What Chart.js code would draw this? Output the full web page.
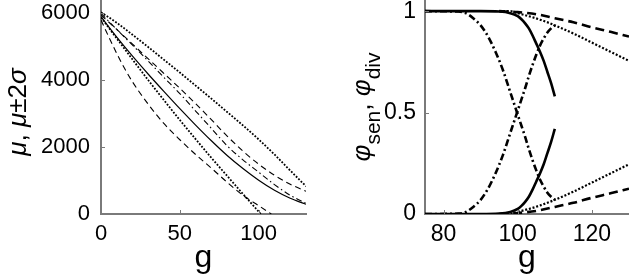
<!DOCTYPE html>
<html><head><meta charset="utf-8">
<script src="https://cdn.jsdelivr.net/npm/chart.js@4.4.1/dist/chart.umd.min.js"></script>
<style>
html,body{margin:0;padding:0;background:#fff;width:629px;height:277px;overflow:hidden}
canvas{position:absolute;top:0}
#c1{left:0}
#c2{left:320px}
</style></head><body>
<canvas id="c1" width="320" height="277"></canvas>
<canvas id="c2" width="309" height="277"></canvas>
<script>
// ---------------- Left panel data (g vs mu, mu +/- 2 sigma) ----------------
const gLeft            = [0, 10, 20, 30, 40, 50, 60, 70, 80, 90, 100, 110, 120, 130];
const upperDotted      = [6030, 5720, 5360, 4990, 4610, 4230, 3840, 3450, 3050, 2650, 2230, 1780, 1300, 830];
const upperDashed      = [5950, 5520, 5080, 4640, 4200, 3760, 3300, 2820, 2330, 1880, 1490, 1160, 890, 680];
const muDashDot        = [6000, 5520, 5050, 4570, 4080, 3600, 3080, 2560, 2040, 1620, 1250, 880, 560, 320];
const muSolid          = [5900, 5290, 4720, 4180, 3660, 3150, 2660, 2190, 1750, 1360, 1010, 710, 470, 290];
const gLowerDotted     = [0, 10, 20, 30, 40, 50, 60, 70, 80, 90, 100, 101.3];
const lowerDotted      = [5880, 5250, 4620, 4000, 3400, 2810, 2240, 1680, 1140, 600, 70, 0];
const gLowerDashed     = [0, 5, 10, 15, 20, 30, 40, 50, 60, 70, 80, 90, 100, 108];
const lowerDashed      = [5800, 5290, 4800, 4350, 3950, 3280, 2700, 2220, 1780, 1370, 950, 560, 250, 0];
const leftXTicks       = [0, 50, 100];
const leftXTickLabels  = ['0', '50', '100'];
const leftYTicks       = [0, 2000, 4000, 6000];
const leftYTickLabels  = ['0', '2000', '4000', '6000'];

// ---------------- Right panel data (g vs phi_sen, phi_div) ----------------
const gSolid        = [75, 90, 95, 98, 100, 101, 102, 103, 104, 105, 106, 107, 108, 109, 110];
const solidDown     = [1, 1, 0.998, 0.99, 0.975, 0.96, 0.94, 0.915, 0.88, 0.84, 0.80, 0.755, 0.70, 0.645, 0.58];
const solidUp       = [0, 0, 0.002, 0.01, 0.025, 0.04, 0.06, 0.085, 0.12, 0.16, 0.20, 0.245, 0.30, 0.355, 0.42];
const gDashDot      = [75, 84, 86, 88, 90, 92, 94, 96, 98, 100, 101, 102, 103, 104, 105, 106, 107, 108, 109, 110];
const dashDotDown   = [1, 0.998, 0.99, 0.965, 0.93, 0.875, 0.80, 0.71, 0.60, 0.49, 0.435, 0.38, 0.32, 0.265, 0.215, 0.17, 0.135, 0.105, 0.085, 0.07];
const dashDotUp     = [0, 0.002, 0.01, 0.035, 0.07, 0.125, 0.20, 0.29, 0.40, 0.51, 0.565, 0.62, 0.68, 0.735, 0.785, 0.83, 0.865, 0.895, 0.915, 0.93];
const gDotted       = [95, 98, 100, 102, 104, 106, 108, 110, 115, 120, 125, 130];
const dottedDown    = [1, 1, 0.99, 0.98, 0.97, 0.958, 0.945, 0.93, 0.89, 0.845, 0.80, 0.755];
const dottedUp      = [0, 0, 0.01, 0.02, 0.03, 0.042, 0.055, 0.07, 0.11, 0.155, 0.20, 0.245];
const gDashed       = [95, 100, 105, 110, 115, 120, 125, 130];
const dashedDown    = [1, 0.995, 0.985, 0.965, 0.945, 0.92, 0.898, 0.875];
const dashedUp      = [0, 0.005, 0.015, 0.035, 0.055, 0.08, 0.102, 0.125];
const rightXTicks      = [80, 100, 120];
const rightXTickLabels = ['80', '100', '120'];
const rightYTicks      = [0, 0.5, 1];
const rightYTickLabels = ['0', '0.5', '1'];

const FONT = '"Liberation Sans", Arial, Helvetica, sans-serif';
const pts = (xs, ys) => xs.map((x, i) => ({x: x, y: ys[i]}));

function line(xs, ys, width, dash) {
  return {data: pts(xs, ys), borderColor: '#000', borderWidth: width, borderDash: dash,
          pointRadius: 0, fill: false, cubicInterpolationMode: 'monotone'};
}

// inward tick marks + rich axis titles
const decor = {
  id: 'decor',
  afterDraw(chart, args, o) {
    const {ctx, chartArea: a, scales: {x, y}} = chart;
    ctx.save();
    ctx.strokeStyle = '#7a7a7a'; ctx.lineWidth = 1;
    x.ticks.forEach(t => {
      const p = Math.round(x.getPixelForValue(t.value)) + 0.5;
      ctx.beginPath(); ctx.moveTo(p, a.bottom); ctx.lineTo(p, a.bottom - 4); ctx.stroke();
    });
    y.ticks.forEach(t => {
      const p = Math.round(y.getPixelForValue(t.value)) + 0.5;
      ctx.beginPath(); ctx.moveTo(a.left, p); ctx.lineTo(a.left + 4, p); ctx.stroke();
    });
    ctx.fillStyle = '#000';
    // x title
    ctx.font = '32px ' + FONT; ctx.textAlign = 'center'; ctx.textBaseline = 'alphabetic';
    ctx.fillText(o.xTitle, (a.left + a.right) / 2, o.xTitleBase);
    // y title (rotated, rich)
    ctx.translate(o.yCx, o.yCy); ctx.rotate(-Math.PI / 2);
    let total = 0;
    o.yParts.forEach(p => { ctx.font = p.f; p.w = ctx.measureText(p.t).width; total += p.w; });
    let cx = -total / 2; ctx.textAlign = 'left';
    o.yParts.forEach(p => { ctx.font = p.f; ctx.fillText(p.t, cx, p.dy || 0); cx += p.w; });
    ctx.restore();
  }
};

function options(c) {
  return {
    responsive: false, animation: false, devicePixelRatio: 1,
    layout: {padding: {left: 0, right: c.padRight, top: 0, bottom: 0}},
    plugins: {legend: {display: false}, tooltip: {enabled: false}, decor: c.decor},
    elements: {line: {borderCapStyle: 'butt', borderJoinStyle: 'round'}},
    scales: {
      x: {
        type: 'linear', min: c.xmin, max: c.xmax,
        grid: {display: false, drawTicks: false},
        border: {display: true, color: '#7a7a7a', width: 2},
        afterBuildTicks: s => { s.ticks = c.xticks.map(v => ({value: v})); },
        afterFit: s => { s.height = 63; s.paddingLeft = 0; s.paddingRight = 0; s.paddingTop = 0; s.paddingBottom = 0; },
        ticks: {font: {family: FONT, size: c.fs}, color: '#000', padding: 7, maxRotation: 0, autoSkip: false,
                callback: (v, i) => c.xlabels[i]}
      },
      y: {
        type: 'linear', min: c.ymin, max: c.ymax,
        grid: {display: false, drawTicks: false},
        border: {display: true, color: '#7a7a7a', width: 2},
        afterBuildTicks: s => { s.ticks = c.yticks.map(v => ({value: v})); },
        afterFit: s => { s.width = c.yWidth; s.paddingLeft = 0; s.paddingRight = 0; s.paddingTop = 0; s.paddingBottom = 0; },
        ticks: {font: {family: FONT, size: c.fs}, color: '#000', padding: c.ypad, autoSkip: false,
                callback: (v, i) => c.ylabels[i]}
      }
    }
  };
}

// Left chart
new Chart(document.getElementById('c1'), {
  type: 'line',
  data: {datasets: [
    line(gLeft, upperDotted, 1.8, [1.8, 1.6]),
    line(gLeft, upperDashed, 1.1, [6, 4]),
    line(gLeft, muDashDot, 1.1, [6, 3, 1.5, 3]),
    line(gLeft, muSolid, 1.2, []),
    line(gLowerDotted, lowerDotted, 1.8, [1.8, 1.6]),
    line(gLowerDashed, lowerDashed, 1.1, [6, 4])
  ]},
  options: options({
    padRight: 14, xmin: 0, xmax: 130, ymin: 0, ymax: 6400, yWidth: 101, fs: 22, ypad: 11,
    xticks: leftXTicks, xlabels: leftXTickLabels, yticks: leftYTicks, ylabels: leftYTickLabels,
    decor: {xTitle: 'g', xTitleBase: 267, yCx: 26, yCy: 112, yParts: [
      {t: 'μ', f: 'italic 26px ' + FONT},
      {t: ', ', f: '26px ' + FONT},
      {t: 'μ', f: 'italic 26px ' + FONT},
      {t: '±2', f: '26px ' + FONT},
      {t: 'σ', f: 'italic 26px ' + FONT}
    ]}
  }),
  plugins: [decor]
});

// Right chart
new Chart(document.getElementById('c2'), {
  type: 'line',
  data: {datasets: [
    line(gDashed, dashedDown, 2.6, [9, 5]),
    line(gDashed, dashedUp, 2.6, [9, 5]),
    line(gDotted, dottedDown, 2.2, [2, 1.8]),
    line(gDotted, dottedUp, 2.2, [2, 1.8]),
    line(gDashDot, dashDotDown, 2.6, [7, 3, 2, 3]),
    line(gDashDot, dashDotUp, 2.6, [7, 3, 2, 3]),
    line(gSolid, solidDown, 2.6, []),
    line(gSolid, solidUp, 2.6, [])
  ]},
  options: options({
    padRight: 0, xmin: 75, xmax: 130, ymin: 0, ymax: 1.055, yWidth: 105, fs: 23, ypad: 9,
    xticks: rightXTicks, xlabels: rightXTickLabels, yticks: rightYTicks, ylabels: rightYTickLabels,
    decor: {xTitle: 'g', xTitleBase: 267, yCx: 50, yCy: 107, yParts: [
      {t: 'φ', f: 'italic 26px ' + FONT},
      {t: 'sen', f: '21px ' + FONT, dy: 10},
      {t: ', ', f: '26px ' + FONT},
      {t: 'φ', f: 'italic 26px ' + FONT},
      {t: 'div', f: '21px ' + FONT, dy: 10}
    ]}
  }),
  plugins: [decor]
});
</script>
</body></html>
